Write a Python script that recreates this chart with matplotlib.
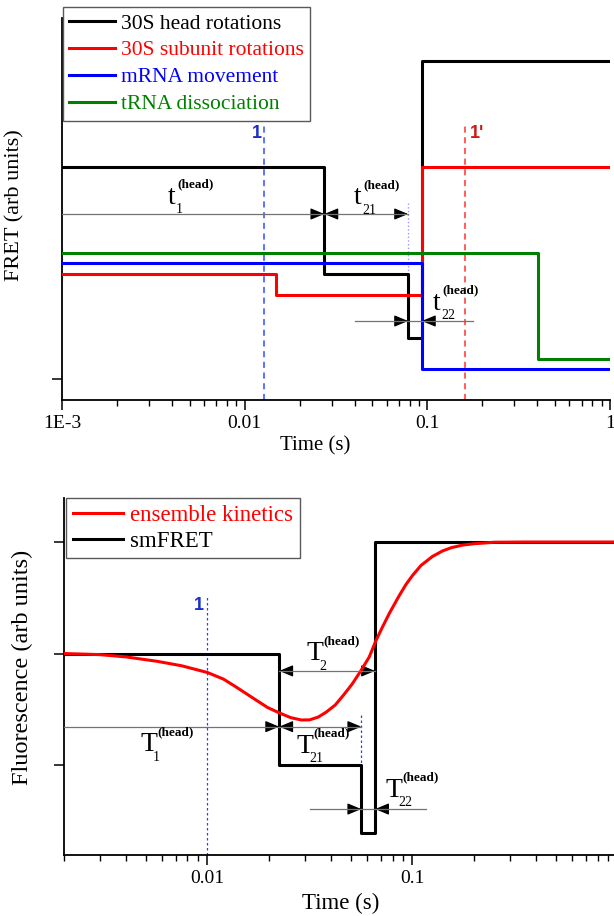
import matplotlib
matplotlib.use("Agg")
import matplotlib.pyplot as plt
from matplotlib.lines import Line2D

plt.rcParams['font.family'] = ['Liberation Serif', 'DejaVu Serif']

# ---------------- data: top panel (FRET traces) ----------------
head_t = [1e-3, 0.0273, 0.0785, 0.0933, 1.0]
head_y = [212, 105, 41, 318, 318]
subunit_t = [1e-3, 0.0149, 0.0933, 1.0]
subunit_y = [105, 84, 212, 212]
mrna_t = [1e-3, 0.0933, 1.0]
mrna_y = [116, 10, 10]
trna_t = [1e-3, 0.405, 1.0]
trna_y = [126, 20, 20]
top_series_labels = ['30S head rotations', '30S subunit rotations',
                     'mRNA movement', 'tRNA dissociation']
top_colors = ['black', '#ff0000', '#0000ff', '#008000']
top_xticks = [1e-3, 1e-2, 1e-1, 1.0]
top_xticklabels = ['1E-3', '0.01', '0.1', '1']
top_marker_t = [0.0127, 0.161]   # dashed lines "1" and "1'"

# ---------------- data: bottom panel ----------------
sm_t = [0.002, 0.0224, 0.0563, 0.0657, 1.0]
sm_y = [1.0, 0.0, -0.61, 2.0, 2.0]
ens_t = [0.002, 0.003, 0.004, 0.0057, 0.0075, 0.01, 0.012, 0.0138, 0.0172,
         0.0197, 0.0224, 0.0255, 0.0287, 0.0315, 0.0347, 0.038, 0.042, 0.046,
         0.0508, 0.056, 0.0615, 0.0665, 0.0715, 0.0771, 0.0862, 0.093, 0.1,
         0.11, 0.125, 0.14, 0.155, 0.175, 0.2, 0.25, 0.35, 1.0]
ens_y = [1.0, 0.99, 0.97, 0.93, 0.89, 0.83, 0.77, 0.70, 0.585,
         0.515, 0.468, 0.425, 0.404, 0.405, 0.43, 0.475, 0.538, 0.625,
         0.726, 0.845, 0.968, 1.12, 1.24, 1.36, 1.52, 1.62, 1.70,
         1.79, 1.87, 1.92, 1.95, 1.972, 1.985, 1.998, 2.0, 2.0]
bot_xticks = [0.01, 0.1, 1.0]
bot_xticklabels = ['0.01', '0.1', '1']

W, H = 614, 916
fig = plt.figure(figsize=(W / 100, H / 100), dpi=100)


def px_axes(l, r, b, t):
    return fig.add_axes([l / W, 1 - b / H, (r - l) / W, (b - t) / H])


def style_axes(ax):
    for s in ['top', 'right']:
        ax.spines[s].set_visible(False)
    for s in ['left', 'bottom']:
        ax.spines[s].set_linewidth(1.3)
    ax.tick_params(which='major', direction='out', length=7, width=1.1,
                   labelsize=14)
    ax.tick_params(which='minor', direction='out', length=4.5, width=1.0)
    ax.tick_params(axis='y', which='minor', left=False)


def arrowhead(ax, x_tip, x_from, y):
    ax.annotate('', xy=(x_tip, y), xytext=(x_from, y),
                arrowprops=dict(arrowstyle='-|>,head_length=0.6,head_width=0.25',
                                color='black', lw=0.9, shrinkA=0, shrinkB=0,
                                mutation_scale=14))


def hline_arrow(ax, x0, x1, y, heads):
    ax.plot([x0, x1], [y, y], color='0.45', lw=0.9, zorder=4)
    for tip, frm in heads:
        arrowhead(ax, tip, frm, y)


def symbol(ax, x, y, main, sub, msize=19, sup_dx=5, sup_dy=9, sub_dx=3, sub_dy=-9,
           subsize=10):
    ax.text(x, y, main, fontsize=msize, ha='center', va='center', zorder=6)
    ax.annotate('(head)', (x, y), xytext=(sup_dx, sup_dy), textcoords='offset points',
                fontsize=9.5, fontweight='bold', ha='left', va='center', zorder=6)
    ax.annotate(sub, (x, y), xytext=(sub_dx, sub_dy), textcoords='offset points',
                fontsize=subsize, ha='left', va='center', zorder=6)


# ======================= TOP PANEL =======================
ax1 = px_axes(62, 610, 400, 18)
style_axes(ax1)
ax1.set_xscale('log')
ax1.set_xlim(1e-3, 1.0)
ax1.set_ylim(-21, 361)

series = [(head_t, head_y), (subunit_t, subunit_y), (mrna_t, mrna_y), (trna_t, trna_y)]
for (tt, yy), c, lab in zip(series, top_colors, top_series_labels):
    ax1.step(tt, yy, where='post', color=c, lw=2.2, label=lab, zorder=3)

ax1.set_xticks(top_xticks)
ax1.set_xticklabels(top_xticklabels)
ax1.set_yticks([0])
ax1.set_yticklabels([])

# dashed markers
ax1.plot([top_marker_t[0]] * 2, [-21, 254], ls=(0, (4, 3)), color='#3050ff', lw=1.1, zorder=2)
ax1.plot([top_marker_t[1]] * 2, [-21, 254], ls=(0, (4, 3)), color='#ff3030', lw=1.1, zorder=2)
ax1.text(0.0117, 246, '1', color='#1a2ecc', fontsize=13, fontweight='bold',
         family=['Liberation Sans', 'DejaVu Sans'], ha='center', va='center')
ax1.text(0.187, 246, "1'", color='#cc1a1a', fontsize=13, fontweight='bold',
         family=['Liberation Sans', 'DejaVu Sans'], ha='center', va='center')
# pale dotted guide
ax1.plot([0.0785, 0.0785], [176, 105], ls=':', color='#9999ff', lw=1.0, zorder=2)

# arrows
hline_arrow(ax1, 1e-3, 0.0273, 165, [(0.0273, 0.0273 / 1.12)])
hline_arrow(ax1, 0.0273, 0.0785, 165, [(0.0273, 0.0273 * 1.12), (0.0785, 0.0785 / 1.12)])
hline_arrow(ax1, 0.0403, 0.177, 58, [(0.0785, 0.0785 / 1.12), (0.0933, 0.0933 * 1.12)])

symbol(ax1, 0.00398, 182, 't', '1', msize=20, sup_dx=4, sub_dx=3)
symbol(ax1, 0.0417, 181, 't', '21', msize=20, sup_dx=4, sub_dx=3)
symbol(ax1, 0.1127, 76, 't', '22', msize=20, sup_dx=4, sub_dx=3)

ax1.set_xlabel('Time (s)', fontsize=15)
ax1.xaxis.set_label_coords((315 - 62) / 548, -0.094)
ax1.set_ylabel('FRET (arb units)', fontsize=16)
ax1.yaxis.set_label_coords(-0.068, 0.51)

handles = [Line2D([], [], color=c, lw=2.2) for c in top_colors]
leg1 = ax1.legend(handles, top_series_labels, loc='upper left',
                  bbox_to_anchor=(63 / W, 1 - 7 / H), bbox_transform=fig.transFigure,
                  fontsize=15.5, labelspacing=0.32, handlelength=2.1, handletextpad=0.3,
                  borderpad=0.3, borderaxespad=0, fancybox=False, framealpha=1,
                  edgecolor='0.35')
leg1.get_frame().set_linewidth(1.0)
for txt, c in zip(leg1.get_texts(), top_colors):
    txt.set_color(c)

# ======================= BOTTOM PANEL =======================
ax2 = px_axes(64, 617.6, 855, 498)
style_axes(ax2)
ax2.set_xscale('log')
ax2.set_xlim(0.002, 1.0)
ax2.set_ylim(-0.807, 2.395)

ax2.step(sm_t, sm_y, where='post', color='black', lw=2.2, zorder=3)
ax2.plot(ens_t, ens_y, color='#ff0000', lw=2.2, zorder=4)

ax2.set_xticks(bot_xticks)
ax2.set_xticklabels(bot_xticklabels)
ax2.set_yticks([0, 1, 2])
ax2.set_yticklabels([])

ax2.plot([0.01, 0.01], [-0.807, 1.51], ls=(0, (2, 2)), color='#2040ff', lw=0.9, zorder=2)
ax2.text(0.0091, 1.43, '1', color='#1a2ecc', fontsize=13, fontweight='bold',
         family=['Liberation Sans', 'DejaVu Sans'], ha='center', va='center')
ax2.plot([0.0563, 0.0563], [0.45, 0.0], ls=(0, (2, 2)), color='#2040ff', lw=0.9, zorder=2)

hline_arrow(ax2, 0.0224, 0.0657, 0.844, [(0.0224, 0.0224 * 1.12), (0.0657, 0.0657 / 1.12)])
hline_arrow(ax2, 0.002, 0.0224, 0.344, [(0.0224, 0.0224 / 1.12)])
hline_arrow(ax2, 0.0224, 0.0563, 0.344, [(0.0224, 0.0224 * 1.12), (0.0563, 0.0563 / 1.12)])
hline_arrow(ax2, 0.0318, 0.116, -0.395, [(0.0563, 0.0563 / 1.12), (0.0657, 0.0657 * 1.12)])

symbol(ax2, 0.00519, 0.18, 'T', '1', msize=20, sup_dx=6, sup_dy=9, sub_dx=3, sub_dy=-9)
symbol(ax2, 0.0300, 0.17, 'T', '21', msize=20, sup_dx=6, sup_dy=9, sub_dx=3, sub_dy=-9)
symbol(ax2, 0.0336, 1.0, 'T', '2', msize=20, sup_dx=6, sup_dy=9, sub_dx=3, sub_dy=-9)
symbol(ax2, 0.0815, -0.225, 'T', '22', msize=20, sup_dx=6, sup_dy=9, sub_dx=3, sub_dy=-9)

ax2.set_xlabel('Time (s)', fontsize=16.5)
ax2.xaxis.set_label_coords((341 - 64) / 553.6, -0.106)
ax2.set_ylabel('Fluorescence (arb units)', fontsize=17.5)
ax2.yaxis.set_label_coords(-0.056, 0.525)

h2 = [Line2D([], [], color='#ff0000', lw=2.2), Line2D([], [], color='black', lw=2.2)]
leg2 = ax2.legend(h2, ['ensemble kinetics', 'smFRET'], loc='upper left',
                  bbox_to_anchor=(66 / W, 1 - 498 / H), bbox_transform=fig.transFigure,
                  fontsize=16.5, labelspacing=0.2, handlelength=2.2, handletextpad=0.3,
                  borderpad=0.3, borderaxespad=0, fancybox=False, framealpha=1,
                  edgecolor='0.35')
leg2.get_frame().set_linewidth(1.0)
leg2.get_texts()[0].set_color('#ff0000')

fig.savefig('out.png', dpi=100)
